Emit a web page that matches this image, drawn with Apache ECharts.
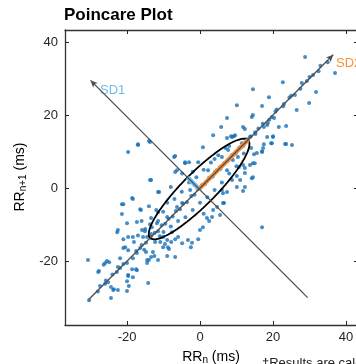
<!DOCTYPE html>
<html><head><meta charset="utf-8">
<script src="https://cdn.jsdelivr.net/npm/echarts@6/dist/echarts.min.js"></script>
<style>html,body{margin:0;padding:0;background:#fff}#c{width:356px;height:364px}</style>
</head><body><div id="c"></div>
<script>
// ---- data ----
const xTicks = [-20, 0, 20, 40];
const yTicks = [-20, 0, 20, 40];
const xRange = [-37, 43.3];
const yRange = [-37.5, 43.3];
const center = [-0.25, -0.25];
const SD1 = 4.5;
const SD2 = 19;
const diagLine = [[-30.5, -30.5], [36.5, 36.5]];
const perpLine = [[29.5, -30], [-30, 29.5]];
const rrPoints = [
[28.8,35.9],[37,31.5],[22.7,29],[27.9,28.8],[29.3,29.3],[14.5,27.1],[31.8,26.3],[18.9,24.9],[10.1,22.7],[17,22.5],[23,23],[29.9,23.3],[26.5,21.4],[7.4,19.2],[14.2,19.5],[14.5,20],[19.7,19.5],[20.3,19.2],[5.8,16.7],[11.8,16.7],[12.3,16.2],[18.6,17.8],[18.4,17.3],[17.5,16.7],[21.6,16.7],[23.6,17],[3.6,14.5],[7.4,13.7],[8.5,14.2],[9.3,14.2],[15.1,15.3],[20,14],[23.6,12.1],[25.2,11.8],[19.5,12.3],[0.8,11.2],[17.3,11],[17,10.1],[14.8,9.3],[11.8,6.3],[10.7,5.8],[12.3,5.5],[14.5,3],
[24.5,24.8],[26,25.5],[31,31],[33,33.5],[21,21.5],[16,16.3],[13,13.4],[32.5,32],[35,34.5],
[-17,11.8],[-13.7,12.6],[-7.1,8.5],[-4.1,7.1],[-3,7.1],[-6.8,4.4],[-4.9,4],[-13.7,2.2],[-11.5,-1.1],[-8,0.3],[-18.4,-3],[-21.4,-4.4],[-16.4,-5.8],[-13.4,-8.2],[-11.5,-9],[-22.5,-11.5],[-19.7,-13.4],[-15.6,-13.4],[-15.1,-11.8],[-13.2,-10.7],[-10.1,-13.4],[-9,-14.2],[-7.7,-12.1],[-6,-13.4],[-4.9,-15.1],[-3.3,-14.2],[-2.5,-16.2],[-0.5,-14],[0,-11.5],[1.9,-8.2],[2.5,-9],[3.6,-6],[4.7,-5.2],[6.6,-4.1],[6,-0.5],[7.4,-1.1],[8.8,2.2],[10.1,0.3],[11,2.2],[12.3,4.1],[13.7,6.3],[14.5,6.8],[15.6,9.6],[17,9.9],[17.5,12],[18.4,14],[19.7,12.3],[20,14.2],[17,-10.7],[8.8,14],[9.6,14.5],[11.5,12.3],[13.7,14],[7.7,10.4],[9,9],[10.4,8.5],[5.5,5.8],[4.1,4.4],[2.2,4.9],[-1.4,0.8],[-2.7,-0.5],[-6.3,-5.2],[-4.9,-4.1],[-9,-7.9],[-10.1,-6.5],
[-4.1,6.8],[-0.5,7.1],[9,7.7],[15,6.8],[7.4,4.9],[10.1,3.3],[14.2,2.7],[12.3,0.3],[11.8,-0.8],[6.3,-1.4],[6.3,-4.1],[3.3,-7.9],[5.5,-7.4],[0.8,-10.7],[-2.2,-15],[23.3,12.1],
[-19.7,9.9],[-17,12],[-14,12.9],[-13.4,2.2],[-18.6,-2.7],[-21,-4.4],[-22.7,-12.1],[-21.4,-7.1],[-11.2,-1.1],[-16.2,-6],[-11.5,-6.6],[-17.3,-9.3],[-6.8,8.8],[-6.3,4.9],[-20,-9.6],[-18.4,-13.4],[-21,-14],[-21,-16.4],[-20.5,-16.2],[-18.1,-14.8],[-15.9,-11.5],[-15,-11.2],[-13.7,-9.9],[-11.8,-9.6],[-14.5,-13.4],[-13.4,-12.6],[-12.3,-14.8],[-10.9,-14.8],[-10.1,-16.2],[-8.8,-16.2],[-9,-18.6],[-6.8,-18.9],[-13.4,-18.9],[-14.5,-20.5],[-14,-19.7],[-12.9,-17.5],[-17.3,-17.8],[-19.7,-17],[-21.9,-19.2],[-22.5,-21.6],[-18.6,-22.2],[-17.5,-22.2],[-18.4,-24.4],[-19.7,-24.1],[-20,-25.5],[-14.2,-26],[-24.4,-30.1],[-23.6,-27.7],[-30.4,-30.7],[-30.7,-19.7],[-27.7,-22.7],[-26,-20.5],[-25.5,-20],[-26.4,-21],[-24.9,-20.3],[-25.2,-25.8],[-25.8,-25.3],[-27.4,-26.8],[-24.4,-27.1],[-22.5,-27.9],[-19.5,-26.8],[-20,-28.2],[-16.4,-16.4],[-15.3,-16.9],[-14.8,-17.5],[-11,-13.2],[-9.6,-15.3],[-8.5,-16.7],[-7.9,-14.8],[-6.8,-14],
[-27.9,-23],[-19.7,-23.8],[-17.3,-22.5],[-14.5,-19.7],[-12.5,-18.6],[-11.5,-19.7],[-21.9,-21.9],[-20,-20.5],[-18.4,-19.2],[-23.8,-27.9],
[-28,-28.3],[-26,-26.2],[-24,-23.7],[-22.8,-23],[-21,-20.8],[-17.5,-17.2],[-16,-15.6],[-14.8,-15],[-13.5,-13.3],[-12.4,-12.2],[-11.5,-11.8],[-10.5,-10.2],[-9.5,-9.8],[-8.6,-8.4],[-7.5,-7.8],[-6.6,-6.3],[-5.5,-5.8],[-4.6,-4.3],[-3.6,-3.9],[-2.4,-2.2],[-1.5,-1.8],[-0.6,-0.3],[0.5,0.8],[1.4,1.1],[2.5,2.8],[3.5,3.2],[4.6,4.9],[5.6,5.3],[6.7,6.9],[7.6,7.4],[8.7,9],[9.8,9.5],[10.8,11.1],[11.9,11.6],[13.9,14.2],[15.2,14.8],[17.2,17.6],[19,18.7],[20.7,21],[22.8,22.4],[25,25.3],[27.5,27.2],[30,30.4],
[-9,-4],[-7,-3],[-5,-1],[-3,1.5],[-1,3],[1,5],[3,7],[5,9],[7,11],[-4,-8],[-2,-6],[0,-4],[2,-2.5],[4,-0.5],[6,1.5],[8,4],[10,6],[-12,-6],[-10,-12],[-8,-10.5],[-6,-9],[4,8],[6,8.5],[8,11.5],[12,9.5],[14,11],[-14,-5],[-16,-9],[-17,-13],[-2,4.5],[1,-7]
];
const titleText = 'Poincare Plot';
const footText = '\u2020Results are calculated from the RR intervals';

// ---- derived geometry ----
const u = [Math.SQRT1_2, Math.SQRT1_2];
const v = [-Math.SQRT1_2, Math.SQRT1_2];
const ellipse = [];
for (let i = 0; i <= 120; i++) {
  const t = i / 120 * 2 * Math.PI;
  ellipse.push([center[0] + SD2 * Math.cos(t) * u[0] + SD1 * Math.sin(t) * v[0],
                center[1] + SD2 * Math.cos(t) * u[1] + SD1 * Math.sin(t) * v[1]]);
}
const sd2Line = [center, [center[0] + SD2 * u[0], center[1] + SD2 * u[1]]];
const sd1Line = [center, [center[0] + SD1 * v[0], center[1] + SD1 * v[1]]];

const FONT = 'Liberation Sans, Arial, Helvetica, sans-serif';
const AX = '#262626';
const chart = echarts.init(document.getElementById('c'), null, {renderer: 'canvas'});
const axisCommon = {
  type: 'value', splitLine: {show: false},
  axisLine: {show: true, onZero: false, lineStyle: {color: '#333', width: 1.3}},
};
const rich = {
  b: {fontSize: 14, lineHeight: 17, verticalAlign: 'middle', fontFamily: FONT, color: AX},
  s: {fontSize: 10, lineHeight: 6, verticalAlign: 'bottom', fontFamily: FONT, color: AX}
};
chart.setOption({
  animation: false,
  grid: {left: 65, top: 30, width: 293, height: 295, containLabel: false, outerBoundsMode: 'none'},
  xAxis: [
    Object.assign({}, axisCommon, {position: 'bottom', min: xRange[0], max: xRange[1],
      axisTick: {show: true, inside: true, length: 4, customValues: xTicks, lineStyle: {color: AX}},
      axisLabel: {show: true, customValues: xTicks, color: AX, fontSize: 13, fontFamily: FONT, margin: 6}}),
    Object.assign({}, axisCommon, {position: 'top', min: xRange[0], max: xRange[1],
      axisTick: {show: true, inside: true, length: 4, customValues: xTicks, lineStyle: {color: AX}},
      axisLabel: {show: false}})
  ],
  yAxis: [
    Object.assign({}, axisCommon, {position: 'left', min: yRange[0], max: yRange[1],
      axisTick: {show: true, inside: true, length: 4, customValues: yTicks, lineStyle: {color: AX}},
      axisLabel: {show: true, customValues: yTicks, color: AX, fontSize: 13, fontFamily: FONT, margin: 7}}),
    Object.assign({}, axisCommon, {position: 'right', min: yRange[0], max: yRange[1],
      axisTick: {show: true, inside: true, length: 4, customValues: yTicks, lineStyle: {color: AX}},
      axisLabel: {show: false}})
  ],
  graphic: [
    {type: 'text', left: 64, top: 7, style: {text: titleText, font: 'bold 17px ' + FONT, fill: '#000'}},
    {type: 'text', x: 100, y: 90, style: {text: 'SD1', font: '13px ' + FONT, fill: '#6cbde9', verticalAlign: 'middle'}},
    {type: 'text', x: 336, y: 63, style: {text: 'SD2', font: '13px ' + FONT, fill: '#f7923a', verticalAlign: 'middle'}},
    {type: 'text', x: 211, y: 357, style: {text: '{b|RR}{s|n}{b| (ms)}', rich: rich, align: 'center', verticalAlign: 'middle'}},
    {type: 'text', x: 20, y: 177, rotation: Math.PI / 2, style: {text: '{b|RR}{s|n+1}{b| (ms)}', rich: rich, align: 'center', verticalAlign: 'middle'}},
    {type: 'text', x: 262, y: 363, style: {text: footText, font: '13px ' + FONT, fill: '#222', verticalAlign: 'middle'}}
  ],
  series: [
    {type: 'scatter', data: rrPoints, symbol: 'circle', symbolSize: 4,
      itemStyle: {color: '#1770b8'}, silent: true},
    {type: 'line', data: [], silent: true,
      markLine: {silent: true, symbol: ['none', 'arrow'], symbolSize: [5, 7], label: {show: false},
        lineStyle: {color: '#4d4d4d', width: 1.3, type: 'solid'},
        emphasis: {disabled: true},
        data: [
          [{coord: diagLine[0]}, {coord: diagLine[1]}],
          [{coord: perpLine[0]}, {coord: perpLine[1]}]
        ]}},
    {type: 'line', data: ellipse, showSymbol: false, smooth: false, silent: true,
      lineStyle: {color: '#000', width: 1.8}},
    {type: 'line', data: sd1Line, showSymbol: false, silent: true,
      lineStyle: {color: '#6cbde9', width: 4.5}},
    {type: 'line', data: sd2Line, showSymbol: false, silent: true,
      lineStyle: {color: '#f7923a', width: 4.5}}
  ]
});
</script></body></html>
